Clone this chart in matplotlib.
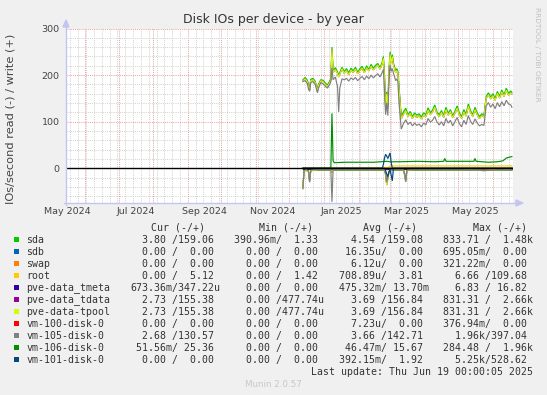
import matplotlib
matplotlib.use('Agg')
import matplotlib.pyplot as plt
import matplotlib.dates as mdates
from matplotlib.ticker import MultipleLocator, NullFormatter
from matplotlib.patches import Rectangle
import pandas as pd
import numpy as np

# ---------------- data ----------------
dates_w = ["2024-12-13","2024-12-15","2024-12-17","2024-12-18","2024-12-19","2024-12-20","2024-12-22","2024-12-24",
           "2024-12-26","2024-12-27","2024-12-29","2024-12-31","2025-01-02","2025-01-04","2025-01-06","2025-01-07",
           "2025-01-08","2025-01-09","2025-01-11","2025-01-13","2025-01-14","2025-01-15","2025-01-17","2025-01-19",
           "2025-01-21","2025-01-23","2025-01-25","2025-01-27","2025-01-29","2025-01-31","2025-02-02","2025-02-04",
           "2025-02-06","2025-02-08","2025-02-10","2025-02-12","2025-02-14","2025-02-16","2025-02-18","2025-02-20",
           "2025-02-22","2025-02-23","2025-02-24","2025-02-25","2025-02-26","2025-02-27","2025-02-28","2025-03-01",
           "2025-03-02","2025-03-03","2025-03-04","2025-03-05","2025-03-06","2025-03-07","2025-03-08","2025-03-09",
           "2025-03-11","2025-03-13","2025-03-15","2025-03-17","2025-03-19","2025-03-21","2025-03-23","2025-03-25",
           "2025-03-27","2025-03-29","2025-03-31","2025-04-02","2025-04-04","2025-04-06","2025-04-08","2025-04-10",
           "2025-04-12","2025-04-14","2025-04-16","2025-04-18","2025-04-20","2025-04-22","2025-04-24","2025-04-26",
           "2025-04-28","2025-04-30","2025-05-02","2025-05-04","2025-05-06","2025-05-08","2025-05-10","2025-05-12",
           "2025-05-14","2025-05-16","2025-05-18","2025-05-20","2025-05-22","2025-05-24","2025-05-26","2025-05-28",
           "2025-05-30","2025-06-01","2025-06-03","2025-06-05","2025-06-07","2025-06-09","2025-06-11","2025-06-13",
           "2025-06-15","2025-06-17","2025-06-18"]

tpool_write = [188,192,186,176,168,188,190,184,166,178,188,186,180,176,184,190,
               256,205,212,204,196,202,214,204,210,201,211,206,213,203,210,215,
               205,216,209,219,211,217,221,213,224,236,195,130,160,128,205,245,
               226,240,222,214,205,210,204,170,106,116,124,111,118,107,115,109,
               113,106,114,111,125,115,121,131,117,111,120,109,126,114,122,109,
               118,129,115,107,121,112,133,120,111,126,115,107,113,110,150,158,
               149,156,146,161,151,164,154,168,157,162,159]
tdata_write = tpool_write
sda_write = [190,195,189,180,171,191,193,187,169,181,190,189,183,179,187,193,
             260,209,216,207,199,206,217,208,214,205,215,209,217,206,214,219,
             209,220,212,223,215,221,225,216,228,240,199,135,164,133,209,250,
             230,244,226,218,209,214,208,175,111,121,129,115,122,111,119,114,
             117,110,119,115,130,119,125,136,121,115,124,113,131,118,126,113,
             122,134,119,111,126,116,138,124,115,131,119,111,117,114,154,162,
             153,160,150,165,155,168,158,172,161,166,163]
vm105_write = [186,188,182,170,165,184,186,180,162,172,184,181,176,172,180,186,
               215,190,196,175,121,172,192,190,193,187,194,190,195,188,193,197,
               190,198,192,200,194,199,203,196,206,212,165,115,140,113,188,222,
               208,214,204,197,188,192,186,140,84,96,104,94,99,91,97,92,
               95,89,97,93,107,99,103,111,99,93,100,91,107,97,103,91,
               100,109,96,89,103,94,113,101,94,106,97,91,94,92,134,141,
               131,138,128,141,132,143,134,146,138,136,131]

dates_r = ["2024-12-13","2024-12-14","2024-12-16","2024-12-18","2024-12-19","2024-12-20","2024-12-24","2024-12-28",
           "2025-01-01","2025-01-05","2025-01-07","2025-01-08","2025-01-09","2025-01-16","2025-01-23","2025-01-30",
           "2025-02-06","2025-02-13","2025-02-20","2025-02-24","2025-02-25","2025-02-26","2025-02-27","2025-02-28",
           "2025-03-03","2025-03-08","2025-03-13","2025-03-14","2025-03-15","2025-03-16","2025-03-22","2025-03-29",
           "2025-04-05","2025-04-12","2025-04-19","2025-04-26","2025-05-03","2025-05-10","2025-05-17","2025-05-24",
           "2025-05-31","2025-06-07","2025-06-14","2025-06-18"]
sda_read = [-40,-5,-4,-6,-26,-5,-4,-4,-4,-4,-4,-8,-4,-4,-4,-4,
            -4,-4,-4,-4,-12,-32,-20,-7,-4,-4,-4,-12,-26,-5,-4,-4,
            -4,-4,-4,-4,-4,-4,-4,-5,-4,-4,-4,-4]
tpool_read = [-42,-6,-4,-8,-28,-5,-4,-3,-3,-3,-3,-9,-3,-3,-3,-3,
              -3,-3,-3,-3,-14,-36,-22,-8,-3,-3,-3,-14,-28,-5,-3,-3,
              -3,-3,-3,-3,-3,-3,-3,-4,-3,-3,-3,-3]
tdata_read = tpool_read
vm105_read = [-44,-5,-3,-6,-30,-4,-3,-3,-3,-3,-3,-72,-3,-3,-3,-3,
              -3,-3,-3,-3,-10,-30,-18,-6,-3,-3,-3,-12,-29,-4,-3,-3,
              -3,-3,-3,-3,-3,-4,-3,-5,-4,-3,-4,-3]

dates_106 = ["2024-12-13","2025-01-07","2025-01-08","2025-01-09","2025-01-10","2025-01-20","2025-02-01","2025-02-15",
             "2025-02-26","2025-03-01","2025-03-10","2025-03-25","2025-04-10","2025-04-18","2025-04-19","2025-04-20",
             "2025-05-01","2025-05-15","2025-05-16","2025-05-17","2025-05-28","2025-06-05","2025-06-10","2025-06-13",
             "2025-06-16","2025-06-18"]
vm106_write = [0,0,118,16,12,13,13,13,15,14,14,15,14,15,21,15,15,15,21,15,13,14,16,22,24,25]

dates_101w = ["2024-12-13","2025-02-22","2025-02-23","2025-02-24","2025-02-25","2025-02-26","2025-02-27",
              "2025-02-28","2025-03-01","2025-03-02","2025-03-03","2025-06-18"]
vm101_write = [0,0,8,22,30,26,21,27,33,12,0,0]
dates_101r = ["2024-12-13","2025-02-24","2025-02-25","2025-02-26","2025-02-27","2025-02-28","2025-03-01",
              "2025-03-02","2025-03-03","2025-03-04","2025-06-18"]
vm101_read = [0,0,-5,-12,-18,-8,-3,-15,-27,0,0]

dates_root = ["2024-12-13","2025-02-27","2025-02-28","2025-03-01","2025-06-18"]
root_write = [1.4,1.4,3,5,5]

dates_flat = ["2024-12-13","2025-06-18"]
flat_zero = [0,0]
tmeta_read = [-0.5,-0.5]

# legend table
names = ["sda","sdb","swap","root","pve-data_tmeta","pve-data_tdata","pve-data-tpool",
         "vm-100-disk-0","vm-105-disk-0","vm-106-disk-0","vm-101-disk-0"]
colors = ["#00CC00","#0066B3","#FF8000","#FFCC00","#330099","#990099","#CCFF00",
          "#FF0000","#808080","#008F00","#00487D"]
cur = ["  3.80 /159.06","  0.00 /  0.00","  0.00 /  0.00","  0.00 /  5.12","673.36m/347.22u",
       "  2.73 /155.38","  2.73 /155.38","  0.00 /  0.00","  2.68 /130.57"," 51.56m/ 25.36","  0.00 /  0.00"]
mins = ["390.96m/  1.33","  0.00 /  0.00","  0.00 /  0.00","  0.00 /  1.42","  0.00 /  0.00",
        "  0.00 /477.74u","  0.00 /477.74u","  0.00 /  0.00","  0.00 /  0.00","  0.00 /  0.00","  0.00 /  0.00"]
avgs = ["  4.54 /159.08"," 16.35u/  0.00","  6.12u/  0.00","708.89u/  3.81","475.32m/ 13.70m",
        "  3.69 /156.84","  3.69 /156.84","  7.23u/  0.00","  3.66 /142.71"," 46.47m/ 15.67","392.15m/  1.92"]
maxs = ["833.71 /  1.48k","695.05m/  0.00","321.22m/  0.00","  6.66 /109.68","  6.83 / 16.82",
        "831.31 /  2.66k","831.31 /  2.66k","376.94m/  0.00","  1.96k/397.04","284.48 /  1.96k","  5.25k/528.62"]

month_labels = ["May 2024","Jul 2024","Sep 2024","Nov 2024","Jan 2025","Mar 2025","May 2025"]
month_label_dates = ["2024-05-16","2024-07-16","2024-09-16","2024-11-16","2025-01-16","2025-03-16","2025-05-16"]

# ---------------- figure ----------------
W, H = 547, 395
fig = plt.figure(figsize=(W/100, H/100), dpi=100, facecolor='#F0F0F0')
def fx(px): return px / W
def fy(py): return 1 - py / H

L, R, T, B = 66, 513, 28.5, 203
ax = fig.add_axes([fx(L), fy(B), fx(R) - fx(L), fy(T) - fy(B)])
ax.set_facecolor('white')
t_end = pd.Timestamp('2025-06-19 00:00:05')
t_start = t_end - pd.Timedelta(days=400)
ax.set_xlim(t_start, t_end)
ax.set_ylim(-74.5, 300)
for s in ax.spines.values():
    s.set_visible(False)

dots = (0, (1, 1.2))
ax.yaxis.set_major_locator(MultipleLocator(100))
ax.yaxis.set_minor_locator(MultipleLocator(20))
ax.xaxis.set_major_locator(mdates.MonthLocator())
ax.xaxis.set_minor_locator(mdates.WeekdayLocator(byweekday=mdates.SU))
ax.xaxis.set_major_formatter(NullFormatter())
ax.grid(which='minor', color='#cfcfcf', linestyle=dots, lw=0.7)
ax.grid(which='major', color='#eb9a9a', linestyle=dots, lw=0.7)
ax.set_axisbelow(True)
ax.tick_params(axis='x', which='both', length=0)
ax.tick_params(axis='y', which='both', length=0, pad=4.5, labelsize=6.8, labelcolor='#444444')

for lab, d in zip(month_labels, month_label_dates):
    ax.text(pd.Timestamp(d), -(212 - B) / (B - T), lab, transform=ax.get_xaxis_transform(),
            ha='center', va='center', fontsize=6.8, color='#444444', clip_on=False)

lw = 0.85
def P(dates, vals, c, z=2):
    ax.plot(pd.to_datetime(dates), vals, color=c, lw=lw, zorder=z, solid_joinstyle='miter')

# draw in munin order (read then write)
P(dates_r, sda_read, colors[0]); P(dates_w, sda_write, colors[0])
P(dates_flat, flat_zero, colors[1]); P(dates_flat, flat_zero, colors[1])
P(dates_flat, flat_zero, colors[2]); P(dates_flat, flat_zero, colors[2])
P(dates_flat, flat_zero, colors[3]); P(dates_root, root_write, colors[3])
P(dates_flat, tmeta_read, colors[4]); P(dates_flat, flat_zero, colors[4])
P(dates_r, tdata_read, colors[5]); P(dates_w, tdata_write, colors[5])
P(dates_r, tpool_read, colors[6]); P(dates_w, tpool_write, colors[6])
P(dates_flat, flat_zero, colors[7]); P(dates_flat, flat_zero, colors[7])
P(dates_r, vm105_read, colors[8]); P(dates_w, vm105_write, colors[8])
P(dates_flat, flat_zero, colors[9]); P(dates_106, vm106_write, colors[9])
P(dates_101r, vm101_read, colors[10]); P(dates_101w, vm101_write, colors[10])
ax.axhline(0, color='black', lw=1.0, zorder=5)

# axis arrows
acol = '#c4c4f4'
fig.add_artist(plt.Line2D([fx(L), fx(L)], [fy(B + 2), fy(24)], color=acol, lw=1.0))
fig.add_artist(plt.Line2D([fx(L - 2), fx(517)], [fy(B), fy(B)], color=acol, lw=1.0))
fig.add_artist(plt.Polygon([[fx(L - 3), fy(27)], [fx(L + 3), fy(27)], [fx(L), fy(20)]],
                           closed=True, color=acol, transform=fig.transFigure))
fig.add_artist(plt.Polygon([[fx(516), fy(B - 3)], [fx(516), fy(B + 3)], [fx(523), fy(B)]],
                           closed=True, color=acol, transform=fig.transFigure))

# texts
fig.text(fx(273.5), fy(20), "Disk IOs per device - by year", ha='center', va='center',
         fontsize=9, color='#333333')
fig.text(fx(11), fy(119), "IOs/second read (-) / write (+)", rotation=90, ha='center', va='center',
         fontsize=8.2, color='#444444')
fig.text(fx(537.5), fy(54), "RRDTOOL / TOBI OETIKER", rotation=270, ha='center', va='center',
         fontsize=5.3, color='#c0c0c0')

mono = 'DejaVu Sans Mono'
tc = '#333333'
fsz = 7.1
hdr_y = 228
for h, xh in zip(["Cur (-/+)", "Min (-/+)", "Avg (-/+)", "Max (-/+)"], [150.7, 258.9, 362.9, 472.8]):
    fig.text(fx(xh), fy(hdr_y), h, family=mono, fontsize=fsz, color=tc, va='center', ha='left')
for i in range(len(names)):
    y = 239.7 + 12 * i
    fig.add_artist(Rectangle((fx(14), fy(y + 2.5)), fx(19) - fx(14), fy(y - 2.5) - fy(y + 2.5),
                             transform=fig.transFigure, facecolor=colors[i], edgecolor='none'))
    fig.text(fx(26.2), fy(y), names[i], family=mono, fontsize=fsz, color=tc, va='center', ha='left')
    for col, xc in zip([cur, mins, avgs, maxs], [130.1, 234.5, 339.1, 443.1]):
        fig.text(fx(xc), fy(y), col[i], family=mono, fontsize=fsz, color=tc, va='center', ha='left')
fig.text(fx(532.8), fy(371.7), "Last update: Thu Jun 19 00:00:05 2025", family=mono, fontsize=fsz,
         color=tc, va='center', ha='right')
fig.text(fx(273.5), fy(384.3), "Munin 2.0.57", fontsize=6.3, color='#c8c8c8', va='center', ha='center')

fig.savefig('out.png', dpi=100, facecolor=fig.get_facecolor())
